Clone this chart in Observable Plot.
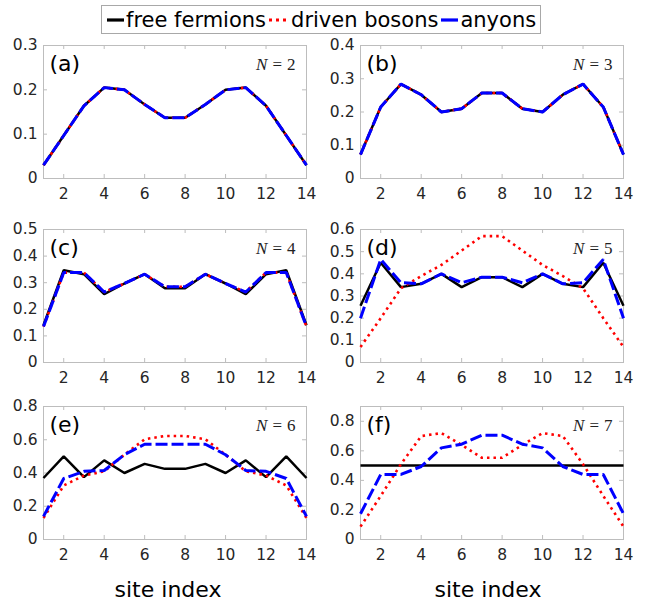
<!DOCTYPE html>
<html><head><meta charset="utf-8">
<script src="https://cdn.jsdelivr.net/npm/d3@7"></script>
<script src="https://cdn.jsdelivr.net/npm/@observablehq/plot@0.6"></script>
<style>
body{margin:0;background:#fff;}
#root{position:relative;width:647px;height:602px;font-family:"DejaVu Sans",sans-serif;overflow:hidden;}
.panel{position:absolute;}
.legend{position:absolute;left:101px;top:5px;width:440px;height:29px;box-sizing:border-box;border:1px solid #a8a8a8;background:#fff;display:flex;align-items:center;font-size:21px;color:#000;padding-left:5px;white-space:nowrap;}
.legend svg{margin-right:2px;}
.legend span{margin-right:3px;}
.xlabel{position:absolute;font-size:22px;line-height:22px;transform:translateX(-50%);top:579px;color:#000;white-space:nowrap;}
</style></head>
<body><div id="root"></div>
<script>
// ---- data ----
const sites = [1,2,3,4,5,6,7,8,9,10,11,12,13,14];
const xTicks = [2,4,6,8,10,12,14];
const seriesNames = ["free fermions","driven bosons","anyons"];
const panelLetters = ["(a)","(b)","(c)","(d)","(e)","(f)"];
const particleNumbers = [2,3,4,5,6,7];
const yMax = [0.3,0.4,0.5,0.6,0.8,0.9];
const yTicksA = [0,0.1,0.2,0.3];
const yTicksB = [0,0.1,0.2,0.3,0.4];
const yTicksC = [0,0.1,0.2,0.3,0.4,0.5];
const yTicksD = [0,0.1,0.2,0.3,0.4,0.5,0.6];
const yTicksE = [0,0.2,0.4,0.6,0.8];
const yTicksF = [0,0.2,0.4,0.6,0.8];
const xAxisLabel = "site index";

const fermionsN2 = [0.03,0.097,0.164,0.205,0.2,0.167,0.137,0.137,0.167,0.2,0.205,0.164,0.097,0.03];
const bosonsN2   = [0.03,0.097,0.164,0.205,0.2,0.167,0.137,0.137,0.167,0.2,0.205,0.164,0.097,0.03];
const anyonsN2   = [0.03,0.097,0.164,0.205,0.2,0.167,0.137,0.137,0.167,0.2,0.205,0.164,0.097,0.03];

const fermionsN3 = [0.072,0.215,0.284,0.252,0.2,0.21,0.257,0.257,0.21,0.2,0.252,0.284,0.215,0.072];
const bosonsN3   = [0.072,0.215,0.284,0.252,0.2,0.21,0.257,0.257,0.21,0.2,0.252,0.284,0.215,0.072];
const anyonsN3   = [0.072,0.215,0.284,0.252,0.2,0.21,0.257,0.257,0.21,0.2,0.252,0.284,0.215,0.072];

const fermionsN4 = [0.14,0.347,0.332,0.257,0.297,0.332,0.279,0.279,0.332,0.297,0.257,0.332,0.347,0.14];
const bosonsN4   = [0.135,0.338,0.338,0.265,0.297,0.332,0.285,0.285,0.332,0.297,0.265,0.338,0.338,0.135];
const anyonsN4   = [0.135,0.338,0.338,0.265,0.297,0.332,0.285,0.285,0.332,0.297,0.265,0.338,0.338,0.135];

const fermionsN5 = [0.256,0.45,0.34,0.355,0.4,0.34,0.385,0.385,0.34,0.4,0.355,0.34,0.45,0.256];
const bosonsN5   = [0.07,0.2,0.335,0.39,0.44,0.505,0.57,0.57,0.505,0.44,0.39,0.335,0.2,0.07];
const anyonsN5   = [0.2,0.465,0.36,0.355,0.4,0.36,0.385,0.385,0.36,0.4,0.355,0.36,0.465,0.2];

const fermionsN6 = [0.37,0.5,0.375,0.476,0.4,0.455,0.425,0.425,0.455,0.4,0.476,0.375,0.5,0.37];
const bosonsN6   = [0.129,0.325,0.385,0.41,0.51,0.603,0.623,0.623,0.603,0.51,0.41,0.385,0.325,0.129];
const anyonsN6   = [0.139,0.367,0.41,0.415,0.51,0.573,0.573,0.573,0.573,0.51,0.415,0.41,0.367,0.139];

const fermionsN7 = [0.5,0.5,0.5,0.5,0.5,0.5,0.5,0.5,0.5,0.5,0.5,0.5,0.5,0.5];
const bosonsN7   = [0.087,0.295,0.51,0.70,0.72,0.64,0.553,0.553,0.64,0.72,0.70,0.51,0.295,0.087];
const anyonsN7   = [0.174,0.44,0.44,0.494,0.62,0.645,0.706,0.706,0.645,0.62,0.494,0.44,0.44,0.174];

// ---- styling / layout ----
const seriesStyle = [
  {stroke:"#000000", strokeWidth:2.5, strokeDasharray:null},
  {stroke:"#ff0000", strokeWidth:2.6, strokeDasharray:"2.5,4"},
  {stroke:"#0000ff", strokeWidth:3, strokeDasharray:"12,4"}
];
const panels = [
  {values:[fermionsN2,bosonsN2,anyonsN2], yTicks:yTicksA, left:43, top:45},
  {values:[fermionsN3,bosonsN3,anyonsN3], yTicks:yTicksB, left:360, top:45},
  {values:[fermionsN4,bosonsN4,anyonsN4], yTicks:yTicksC, left:43, top:229},
  {values:[fermionsN5,bosonsN5,anyonsN5], yTicks:yTicksD, left:360, top:229},
  {values:[fermionsN6,bosonsN6,anyonsN6], yTicks:yTicksE, left:43, top:405.5},
  {values:[fermionsN7,bosonsN7,anyonsN7], yTicks:yTicksF, left:360, top:405.5}
];
const FW = 263, FH = 133, ML = 43, MT = 10, MR = 10, MB = 30;
const boxColor = "#bdbdbd";
const tickColor = "#262626";

const root = document.getElementById("root");

// legend
const legend = document.createElement("div");
legend.className = "legend";
seriesNames.forEach((name, i) => {
  const st = seriesStyle[i];
  const w = i === 1 ? 20 : 17;
  const svg = d3.create("svg").attr("width", w).attr("height", 12);
  svg.append("line").attr("x1", 0).attr("x2", w).attr("y1", 6).attr("y2", 6)
    .attr("stroke", st.stroke).attr("stroke-width", 3.2)
    .attr("stroke-dasharray", i === 1 ? "3,4" : null);
  legend.appendChild(svg.node());
  const sp = document.createElement("span");
  sp.textContent = name;
  legend.appendChild(sp);
});
root.appendChild(legend);

panels.forEach((p, k) => {
  const marks = [
    Plot.frame({stroke: boxColor, strokeWidth: 1}),
    Plot.tickX(xTicks, {x: d => d, stroke: boxColor, insetTop: FH - 4}),
    Plot.tickX(xTicks, {x: d => d, stroke: boxColor, insetBottom: FH - 4}),
    Plot.tickY(p.yTicks, {y: d => d, stroke: boxColor, insetRight: FW - 4}),
    Plot.tickY(p.yTicks, {y: d => d, stroke: boxColor, insetLeft: FW - 4}),
    Plot.axisX(xTicks, {tickSize: 0, tickPadding: 9, fill: tickColor, fontSize: 15.5, label: null}),
    Plot.axisY(p.yTicks, {tickSize: 0, tickPadding: 6, fill: tickColor, fontSize: 15.5, label: null, tickFormat: d3.format("~g")})
  ];
  p.values.forEach((arr, i) => {
    const rows = sites.map((s, j) => ({site: s, value: arr[j]}));
    const st = seriesStyle[i];
    marks.push(Plot.line(rows, {x: "site", y: "value", stroke: st.stroke, strokeWidth: st.strokeWidth,
      strokeDasharray: st.strokeDasharray, strokeLinejoin: "miter", strokeLinecap: "butt"}));
  });
  marks.push(Plot.text([panelLetters[k]], {frameAnchor: "top-left", dx: 6, dy: 18, lineAnchor: "middle",
    textAnchor: "start", fontSize: 22, fill: "#000"}));
  marks.push(Plot.text(["N = " + particleNumbers[k]], {frameAnchor: "top-right", dx: -11, dy: 19, lineAnchor: "middle",
    textAnchor: "end", fontSize: 17, fontFamily: "Liberation Serif", fill: "#222", className: "nlabel"}));

  const chart = Plot.plot({
    width: ML + FW + MR, height: MT + FH + MB,
    marginLeft: ML, marginTop: MT, marginRight: MR, marginBottom: MB,
    style: {fontFamily: "DejaVu Sans", fontSize: "15.5px", background: "transparent", overflow: "visible"},
    x: {domain: [1, 14], label: null},
    y: {domain: [0, yMax[k]], label: null},
    marks
  });
  // italic N, upright "= n"
  d3.select(chart).selectAll(".nlabel text").each(function() {
    const t = d3.select(this);
    const txt = t.text();
    const parts = txt.split(" = ");
    t.text(null);
    t.append("tspan").attr("font-style", "italic").text(parts[0]);
    t.append("tspan").attr("dx", 5).text("=");
    t.append("tspan").attr("dx", 5).text(parts[1]);
  });
  const div = document.createElement("div");
  div.className = "panel";
  div.style.left = (p.left - ML) + "px";
  div.style.top = (p.top - MT) + "px";
  div.appendChild(chart);
  root.appendChild(div);
});

[168, 488].forEach(x => {
  const d = document.createElement("div");
  d.className = "xlabel";
  d.style.left = x + "px";
  d.textContent = xAxisLabel;
  root.appendChild(d);
});
</script>
</body></html>
